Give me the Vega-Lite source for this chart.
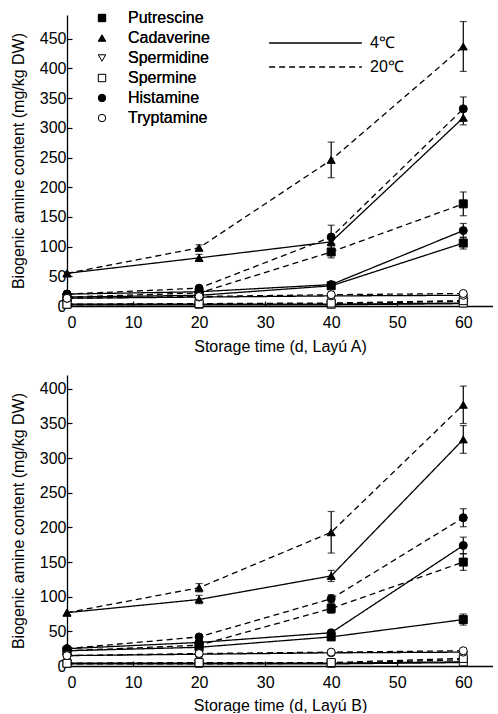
{
  "$schema": "https://vega.github.io/schema/vega-lite/v6.json",
  "padding": {"left": 10, "top": 10, "right": 0, "bottom": 0},
  "spacing": 21,
  "config": {
    "font": "Liberation Sans",
    "view": {"stroke": null},
    "axis": {"grid": false, "domainColor": "black", "tickColor": "black", "labelColor": "black", "titleColor": "black", "labelFontSize": 16, "titleFontSize": 16, "titleFontWeight": "normal", "tickSize": -5, "domainWidth": 1.3, "tickWidth": 1.2},
    "axisX": {"labelPadding": 13},
    "axisY": {"labelPadding": 6},
    "legend": {"labelFontSize": 16, "labelColor": "black", "padding": 0}
  },
  "resolve": {"scale": {"y": "independent"}},
  "data": {"values": [
    {"panel":"A","amine":"Putrescine","temp":"4℃","day":0,"value":15,"err":0},
    {"panel":"A","amine":"Putrescine","temp":"4℃","day":20,"value":18,"err":0},
    {"panel":"A","amine":"Putrescine","temp":"4℃","day":40,"value":34,"err":5},
    {"panel":"A","amine":"Putrescine","temp":"4℃","day":60,"value":106,"err":10},
    {"panel":"A","amine":"Putrescine","temp":"20℃","day":0,"value":15,"err":0},
    {"panel":"A","amine":"Putrescine","temp":"20℃","day":20,"value":22,"err":0},
    {"panel":"A","amine":"Putrescine","temp":"20℃","day":40,"value":91,"err":10},
    {"panel":"A","amine":"Putrescine","temp":"20℃","day":60,"value":172,"err":20},
    {"panel":"A","amine":"Cadaverine","temp":"4℃","day":0,"value":55,"err":0},
    {"panel":"A","amine":"Cadaverine","temp":"4℃","day":20,"value":81,"err":6},
    {"panel":"A","amine":"Cadaverine","temp":"4℃","day":40,"value":108,"err":5},
    {"panel":"A","amine":"Cadaverine","temp":"4℃","day":60,"value":317,"err":12},
    {"panel":"A","amine":"Cadaverine","temp":"20℃","day":0,"value":55,"err":0},
    {"panel":"A","amine":"Cadaverine","temp":"20℃","day":20,"value":98,"err":5},
    {"panel":"A","amine":"Cadaverine","temp":"20℃","day":40,"value":246,"err":30},
    {"panel":"A","amine":"Cadaverine","temp":"20℃","day":60,"value":437,"err":42},
    {"panel":"A","amine":"Spermidine","temp":"4℃","day":0,"value":2,"err":0},
    {"panel":"A","amine":"Spermidine","temp":"4℃","day":20,"value":2,"err":0},
    {"panel":"A","amine":"Spermidine","temp":"4℃","day":40,"value":2,"err":0},
    {"panel":"A","amine":"Spermidine","temp":"4℃","day":60,"value":4,"err":0},
    {"panel":"A","amine":"Spermidine","temp":"20℃","day":0,"value":2,"err":0},
    {"panel":"A","amine":"Spermidine","temp":"20℃","day":20,"value":3,"err":0},
    {"panel":"A","amine":"Spermidine","temp":"20℃","day":40,"value":4,"err":0},
    {"panel":"A","amine":"Spermidine","temp":"20℃","day":60,"value":8,"err":0},
    {"panel":"A","amine":"Spermine","temp":"4℃","day":0,"value":3,"err":0},
    {"panel":"A","amine":"Spermine","temp":"4℃","day":20,"value":3,"err":0},
    {"panel":"A","amine":"Spermine","temp":"4℃","day":40,"value":3,"err":0},
    {"panel":"A","amine":"Spermine","temp":"4℃","day":60,"value":5,"err":0},
    {"panel":"A","amine":"Spermine","temp":"20℃","day":0,"value":3,"err":0},
    {"panel":"A","amine":"Spermine","temp":"20℃","day":20,"value":4,"err":0},
    {"panel":"A","amine":"Spermine","temp":"20℃","day":40,"value":5,"err":0},
    {"panel":"A","amine":"Spermine","temp":"20℃","day":60,"value":9,"err":0},
    {"panel":"A","amine":"Histamine","temp":"4℃","day":0,"value":20,"err":0},
    {"panel":"A","amine":"Histamine","temp":"4℃","day":20,"value":24,"err":0},
    {"panel":"A","amine":"Histamine","temp":"4℃","day":40,"value":36,"err":5},
    {"panel":"A","amine":"Histamine","temp":"4℃","day":60,"value":127,"err":12},
    {"panel":"A","amine":"Histamine","temp":"20℃","day":0,"value":20,"err":0},
    {"panel":"A","amine":"Histamine","temp":"20℃","day":20,"value":30,"err":0},
    {"panel":"A","amine":"Histamine","temp":"20℃","day":40,"value":116,"err":20},
    {"panel":"A","amine":"Histamine","temp":"20℃","day":60,"value":332,"err":20},
    {"panel":"A","amine":"Tryptamine","temp":"4℃","day":0,"value":13,"err":0},
    {"panel":"A","amine":"Tryptamine","temp":"4℃","day":20,"value":15,"err":0},
    {"panel":"A","amine":"Tryptamine","temp":"4℃","day":40,"value":17,"err":0},
    {"panel":"A","amine":"Tryptamine","temp":"4℃","day":60,"value":18,"err":0},
    {"panel":"A","amine":"Tryptamine","temp":"20℃","day":0,"value":13,"err":0},
    {"panel":"A","amine":"Tryptamine","temp":"20℃","day":20,"value":16,"err":0},
    {"panel":"A","amine":"Tryptamine","temp":"20℃","day":40,"value":19,"err":0},
    {"panel":"A","amine":"Tryptamine","temp":"20℃","day":60,"value":21,"err":0},
    {"panel":"B","amine":"Putrescine","temp":"4℃","day":0,"value":22,"err":0},
    {"panel":"B","amine":"Putrescine","temp":"4℃","day":20,"value":27,"err":0},
    {"panel":"B","amine":"Putrescine","temp":"4℃","day":40,"value":42,"err":0},
    {"panel":"B","amine":"Putrescine","temp":"4℃","day":60,"value":67,"err":8},
    {"panel":"B","amine":"Putrescine","temp":"20℃","day":0,"value":22,"err":0},
    {"panel":"B","amine":"Putrescine","temp":"20℃","day":20,"value":30,"err":0},
    {"panel":"B","amine":"Putrescine","temp":"20℃","day":40,"value":83,"err":7},
    {"panel":"B","amine":"Putrescine","temp":"20℃","day":60,"value":150,"err":12},
    {"panel":"B","amine":"Cadaverine","temp":"4℃","day":0,"value":77,"err":0},
    {"panel":"B","amine":"Cadaverine","temp":"4℃","day":20,"value":96,"err":6},
    {"panel":"B","amine":"Cadaverine","temp":"4℃","day":40,"value":130,"err":8},
    {"panel":"B","amine":"Cadaverine","temp":"4℃","day":60,"value":327,"err":20},
    {"panel":"B","amine":"Cadaverine","temp":"20℃","day":0,"value":77,"err":0},
    {"panel":"B","amine":"Cadaverine","temp":"20℃","day":20,"value":113,"err":6},
    {"panel":"B","amine":"Cadaverine","temp":"20℃","day":40,"value":193,"err":30},
    {"panel":"B","amine":"Cadaverine","temp":"20℃","day":60,"value":377,"err":27},
    {"panel":"B","amine":"Spermidine","temp":"4℃","day":0,"value":3,"err":0},
    {"panel":"B","amine":"Spermidine","temp":"4℃","day":20,"value":3,"err":0},
    {"panel":"B","amine":"Spermidine","temp":"4℃","day":40,"value":3,"err":0},
    {"panel":"B","amine":"Spermidine","temp":"4℃","day":60,"value":5,"err":0},
    {"panel":"B","amine":"Spermidine","temp":"20℃","day":0,"value":3,"err":0},
    {"panel":"B","amine":"Spermidine","temp":"20℃","day":20,"value":3,"err":0},
    {"panel":"B","amine":"Spermidine","temp":"20℃","day":40,"value":4,"err":0},
    {"panel":"B","amine":"Spermidine","temp":"20℃","day":60,"value":9,"err":0},
    {"panel":"B","amine":"Spermine","temp":"4℃","day":0,"value":4,"err":0},
    {"panel":"B","amine":"Spermine","temp":"4℃","day":20,"value":4,"err":0},
    {"panel":"B","amine":"Spermine","temp":"4℃","day":40,"value":4,"err":0},
    {"panel":"B","amine":"Spermine","temp":"4℃","day":60,"value":6,"err":0},
    {"panel":"B","amine":"Spermine","temp":"20℃","day":0,"value":4,"err":0},
    {"panel":"B","amine":"Spermine","temp":"20℃","day":20,"value":5,"err":0},
    {"panel":"B","amine":"Spermine","temp":"20℃","day":40,"value":5,"err":0},
    {"panel":"B","amine":"Spermine","temp":"20℃","day":60,"value":11,"err":0},
    {"panel":"B","amine":"Histamine","temp":"4℃","day":0,"value":25,"err":0},
    {"panel":"B","amine":"Histamine","temp":"4℃","day":20,"value":34,"err":0},
    {"panel":"B","amine":"Histamine","temp":"4℃","day":40,"value":48,"err":0},
    {"panel":"B","amine":"Histamine","temp":"4℃","day":60,"value":174,"err":12},
    {"panel":"B","amine":"Histamine","temp":"20℃","day":0,"value":25,"err":0},
    {"panel":"B","amine":"Histamine","temp":"20℃","day":20,"value":42,"err":0},
    {"panel":"B","amine":"Histamine","temp":"20℃","day":40,"value":97,"err":6},
    {"panel":"B","amine":"Histamine","temp":"20℃","day":60,"value":214,"err":13},
    {"panel":"B","amine":"Tryptamine","temp":"4℃","day":0,"value":15,"err":0},
    {"panel":"B","amine":"Tryptamine","temp":"4℃","day":20,"value":17,"err":0},
    {"panel":"B","amine":"Tryptamine","temp":"4℃","day":40,"value":19,"err":0},
    {"panel":"B","amine":"Tryptamine","temp":"4℃","day":60,"value":20,"err":0},
    {"panel":"B","amine":"Tryptamine","temp":"20℃","day":0,"value":15,"err":0},
    {"panel":"B","amine":"Tryptamine","temp":"20℃","day":20,"value":18,"err":0},
    {"panel":"B","amine":"Tryptamine","temp":"20℃","day":40,"value":20,"err":0},
    {"panel":"B","amine":"Tryptamine","temp":"20℃","day":60,"value":22,"err":0}
  ]},
  "vconcat": [
    {
      "width": 426, "height": 291,
      "transform": [{"filter": "datum.panel === 'A'"}],
      "resolve": {"legend": {"shape": "independent", "strokeDash": "independent"}},
      "encoding": {
        "x": {"field": "day", "type": "quantitative", "scale": {"domain": [0, 64.5], "nice": false}, "axis": {"title": "Storage time (d, Layú A)", "values": [0,10,20,30,40,50,60], "titlePadding": 8}},
        "y": {"field": "value", "type": "quantitative", "scale": {"domain": [0, 490], "nice": false}, "axis": {"title": "Biogenic amine content (mg/kg DW)", "values": [0,50,100,150,200,250,300,350,400,450], "titlePadding": 13}}
      },
      "layer": [
        {
          "mark": {"type": "line", "color": "black", "strokeWidth": 1.3},
          "encoding": {
            "detail": {"field": "amine"},
            "strokeDash": {"field": "temp", "type": "nominal", "scale": {"domain": ["4℃", "20℃"], "range": [[1, 0], [6, 4]]},
              "legend": {"title": null, "orient": "none", "legendX": 201, "legendY": 18, "symbolType": "stroke", "symbolSize": 8600, "symbolStrokeWidth": 1.3, "symbolStrokeColor": "black", "clipHeight": 20, "labelOffset": 7, "rowPadding": 4}}
          }
        },
        {
          "transform": [{"filter": "datum.err > 0"}],
          "mark": {"type": "errorbar", "ticks": {"size": 7}, "color": "black", "thickness": 1.2},
          "encoding": {"yError": {"field": "err"}}
        },
        {
          "mark": {"type": "point", "filled": true, "stroke": "black", "strokeWidth": 1, "size": 64, "opacity": 1},
          "encoding": {
            "shape": {"field": "amine", "type": "nominal", "scale": {"domain": ["Putrescine","Cadaverine","Spermidine","Spermine","Histamine","Tryptamine"], "range": ["square","triangle-up","triangle-down","square","circle","circle"]},
              "legend": {"title": null, "orient": "none", "legendX": 27, "legendY": -5, "symbolStrokeColor": "black", "symbolStrokeWidth": 1, "symbolSize": 55, "labelOffset": 18, "rowPadding": 4}},
            "fill": {"field": "amine", "type": "nominal", "scale": {"domain": ["Putrescine","Cadaverine","Spermidine","Spermine","Histamine","Tryptamine"], "range": ["black","black","white","white","black","white"]},
              "legend": {"title": null, "orient": "none", "legendX": 27, "legendY": -5, "symbolStrokeColor": "black", "symbolStrokeWidth": 1, "symbolSize": 55, "labelOffset": 18, "rowPadding": 4}}
          }
        }
      ]
    },
    {
      "width": 426, "height": 291,
      "transform": [{"filter": "datum.panel === 'B'"}],
      "encoding": {
        "x": {"field": "day", "type": "quantitative", "scale": {"domain": [0, 64.5], "nice": false}, "axis": {"title": "Storage time (d, Layú B)", "values": [0,10,20,30,40,50,60], "titlePadding": 7}},
        "y": {"field": "value", "type": "quantitative", "scale": {"domain": [0, 420], "nice": false}, "axis": {"title": "Biogenic amine content (mg/kg DW)", "values": [0,50,100,150,200,250,300,350,400], "titlePadding": 13}}
      },
      "layer": [
        {
          "mark": {"type": "line", "color": "black", "strokeWidth": 1.3},
          "encoding": {
            "detail": {"field": "amine"},
            "strokeDash": {"field": "temp", "type": "nominal", "scale": {"domain": ["4℃", "20℃"], "range": [[1, 0], [6, 4]]}, "legend": null}
          }
        },
        {
          "transform": [{"filter": "datum.err > 0"}],
          "mark": {"type": "errorbar", "ticks": {"size": 7}, "color": "black", "thickness": 1.2},
          "encoding": {"yError": {"field": "err"}}
        },
        {
          "mark": {"type": "point", "filled": true, "stroke": "black", "strokeWidth": 1, "size": 64, "opacity": 1},
          "encoding": {
            "shape": {"field": "amine", "type": "nominal", "scale": {"domain": ["Putrescine","Cadaverine","Spermidine","Spermine","Histamine","Tryptamine"], "range": ["square","triangle-up","triangle-down","square","circle","circle"]}, "legend": null},
            "fill": {"field": "amine", "type": "nominal", "scale": {"domain": ["Putrescine","Cadaverine","Spermidine","Spermine","Histamine","Tryptamine"], "range": ["black","black","white","white","black","white"]}, "legend": null}
          }
        }
      ]
    }
  ]
}
